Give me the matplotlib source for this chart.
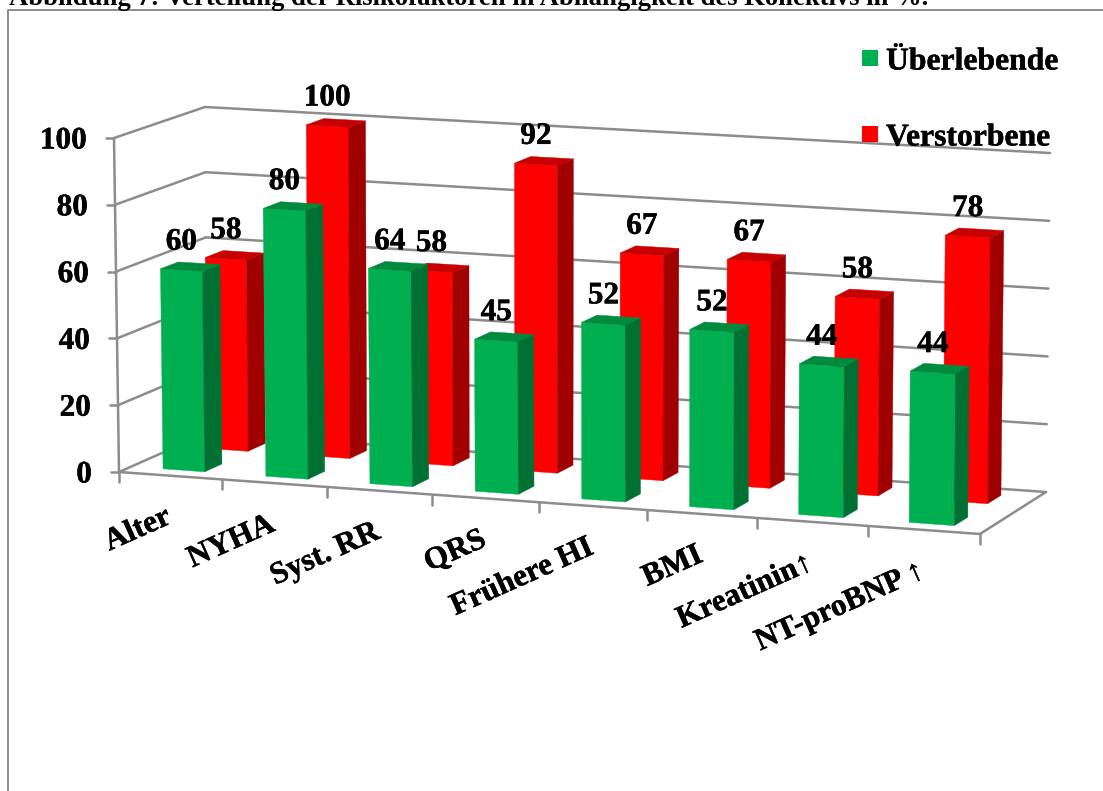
import numpy as np
import matplotlib
matplotlib.use("Agg")
import matplotlib.pyplot as plt
import matplotlib.patheffects as pe
from matplotlib.patches import Polygon, Rectangle

# === Data ===
categories = ["Alter", "NYHA", "Syst. RR", "QRS", "Frühere HI", "BMI", "Kreatinin↑", "NT-proBNP ↑"]
survivors = [60, 80, 64, 45, 52, 52, 44, 44]
deceased = [58, 100, 58, 92, 67, 67, 58, 78]
y_ticks = [0, 20, 40, 60, 80, 100]
title = "Abbildung 7: Verteilung der Risikofaktoren in Abhängigkeit des Kollektivs in %."

# === Colours ===
GRID = "#8c8c8c"
GREEN = ("#00b050", "#007033", "#008a3e")  # front, side, top
RED = ("#ff0000", "#a00000", "#c80000")
FONT_SIZE = 22.5
HEAVY = [pe.withStroke(linewidth=0.3, foreground="black")]

plt.rcParams["font.family"] = ["Liberation Serif", "DejaVu Serif"]
plt.rcParams["font.weight"] = "bold"

fig = plt.figure(figsize=(11.03, 7.91), dpi=100)
ax = fig.add_axes([0, 0, 1, 1])
ax.set_xlim(0, 1103)
ax.set_ylim(791, 0)
ax.axis("off")

# === 3D box corners in pixels: floor and top at value 100 ===
front_left_0 = np.array([119.0, 472.0])
front_right_0 = np.array([980.0, 534.0])
back_left_0 = np.array([207.0, 433.0])
back_right_0 = np.array([1046.0, 492.0])
front_left_100 = np.array([114.0, 138.0])
front_right_100 = np.array([983.0, 188.0])
back_left_100 = np.array([205.0, 107.0])
back_right_100 = np.array([1050.0, 153.0])
PERSPECTIVE = 0.049


def project(u, v, value):
    # u runs along the categories, v goes into the depth, value goes up
    t = u / (1 + PERSPECTIVE * (1 - u))
    floor = (1 - v) * ((1 - t) * front_left_0 + t * front_right_0) + v * ((1 - t) * back_left_0 + t * back_right_0)
    top = (1 - v) * ((1 - t) * front_left_100 + t * front_right_100) + v * ((1 - t) * back_left_100 + t * back_right_100)
    return floor + (top - floor) * value / 100


def line3d(p, q, **kw):
    ax.plot([p[0], q[0]], [p[1], q[1]], color=GRID, lw=1.8, solid_capstyle="round", **kw)


def draw_bar(i, value, v_front, v_back, colors, start):
    # the row drifts a little to the left towards the last category
    offset = start - 0.0036 * i
    left = (i + offset) / len(categories)
    right = (i + offset + 0.405) / len(categories)
    front = [project(left, v_front, 0), project(right, v_front, 0),
             project(right, v_front, value), project(left, v_front, value)]
    side = [project(right, v_front, 0), project(right, v_back, 0),
            project(right, v_back, value), project(right, v_front, value)]
    top = [project(left, v_front, value), project(right, v_front, value),
           project(right, v_back, value), project(left, v_back, value)]
    for pts, c in zip((front, side, top), colors):
        ax.add_patch(Polygon(pts, closed=True, facecolor=c, edgecolor=c, lw=0.3, zorder=3))
    # value label sits above the middle of the front face
    mid = (project(left, v_front, value) + project(right, v_front, value)) / 2
    ax.text(mid[0], mid[1] - 28, str(value), ha="center", va="center", fontsize=FONT_SIZE,
            zorder=5, path_effects=HEAVY)


# === Frame and title ===
ax.plot([8, 8, 1103], [791, 10, 10], color=GRID, lw=1.4)
ax.text(9, 5, title, ha="left", va="baseline", fontsize=19.2, zorder=5)

# === Walls, floor and axis ===
for val in y_ticks:
    line3d(project(0, 0, val), project(0, 1, val))
    line3d(project(0, 1, val), project(1, 1, val))
    p = project(0, 0, val)
    line3d(p, p + np.array([-8, 0]))
    ax.text(p[0] - 27, p[1] + 3, str(val), ha="right", va="center", fontsize=FONT_SIZE, path_effects=HEAVY)

line3d(project(0, 0, 0), project(0, 0, 100))
line3d(project(0, 0, 0), project(1, 0, 0))
line3d(project(1, 0, 0), project(1, 1, 0))

for i in range(len(categories) + 1):
    p = project(i / len(categories), 0, 0)
    line3d(p, p + np.array([0, 10]))

# === Bars: the back row first, then the front row ===
for i, val in enumerate(deceased):
    draw_bar(i, val, 0.66, 0.86, RED, 0.295)
for i, val in enumerate(survivors):
    draw_bar(i, val, 0.14, 0.34, GREEN, 0.31)

# === Category labels ===
for i, name in enumerate(categories):
    p = project((i + 0.5) / len(categories), 0, 0)
    ax.text(p[0] + 2, p[1] + 47, name, rotation=24, rotation_mode="anchor",
            ha="right", va="baseline", fontsize=FONT_SIZE, path_effects=HEAVY)

# === Legend ===
for y, color, name in [(50, GREEN[0], "Überlebende"), (126, RED[0], "Verstorbene")]:
    ax.add_patch(Rectangle((862, y), 16, 16, facecolor=color, edgecolor="none", zorder=5))
    ax.text(886, y + 19.5, name, ha="left", va="baseline", fontsize=22.8, zorder=5, path_effects=HEAVY)

fig.savefig("out.png", dpi=100)
